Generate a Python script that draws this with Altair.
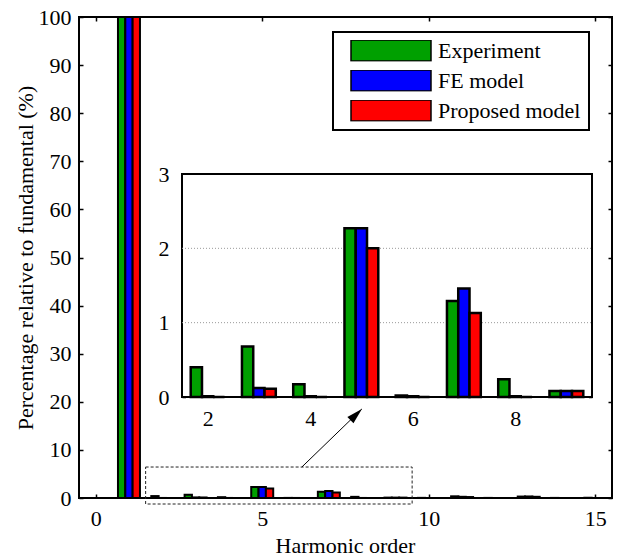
import altair as alt
import pandas as pd

# ---------------- data ----------------
harmonics = list(range(16))
experiment = [0.0, 100.0, 0.40, 0.68, 0.17, 2.27, 0.02, 1.29, 0.24, 0.08, 0.03, 0.35, 0.02, 0.30, 0.02, 0.03]
fe_model = [0.0, 100.0, 0.01, 0.12, 0.01, 2.27, 0.01, 1.46, 0.01, 0.08, 0.0, 0.25, 0.0, 0.32, 0.0, 0.0]
proposed = [0.0, 100.0, 0.0, 0.11, 0.0, 2.00, 0.0, 1.13, 0.0, 0.08, 0.0, 0.20, 0.0, 0.25, 0.0, 0.0]
series_names = ["Experiment", "FE model", "Proposed model"]
series_colors = ["#00a000", "#0000ff", "#ff0000"]

main_x_ticks = [0, 5, 10, 15]
main_y_ticks = list(range(0, 101, 10))
inset_x_ticks = [2, 4, 6, 8]
inset_y_ticks = [0, 1, 2, 3]
inset_first, inset_last = 2, 9
inset_grid = [1, 2]

# zoom-window and arrow annotation (main-axis data units)
zoom_box_x = [1.5, 9.5]
zoom_box_y = [-1.25, 6.44]
arrow_x = [6.19, 7.99]
arrow_y = [6.44, 18.5]
arrow_head = [7.82, 17.34]

rows = []
for k, (name, vals) in enumerate(zip(series_names, [experiment, fe_model, proposed])):
    for h, v in zip(harmonics, vals):
        rows.append({"harmonic": h, "series": name, "k": k, "value": v})
df = pd.DataFrame(rows)

# ---------------- layout ----------------
W, H = 533, 481
FONT = "Liberation Serif, Times New Roman, Times, serif"
FS = 22
MAIN_XD = [-0.5, 15.5]
MAIN_YD = [0, 100]
INS_XD = [1.5, 9.5]
INS_YD = [0, 3]
INS_XR = [103, 513]
INS_YR = [380, 157]


def mx():
    return alt.Scale(domain=MAIN_XD, nice=False, zero=False)


def my():
    return alt.Scale(domain=MAIN_YD, nice=False, zero=False)


def ix():
    return alt.Scale(domain=INS_XD, range=INS_XR, nice=False, zero=False)


def iy():
    return alt.Scale(domain=INS_YD, range=INS_YR, nice=False, zero=False)


def ax(orient, values, offset=0, labels=True, ticks=False, tick_size=4, pad=10, **kw):
    return alt.Axis(orient=orient, values=values, offset=offset, labels=labels,
                    ticks=ticks, tickSize=tick_size, tickColor="black", tickWidth=1.5,
                    domain=False, grid=False, labelFont=FONT, labelFontSize=FS,
                    labelColor="black", labelFlush=False, labelPadding=pad,
                    labelOverlap=False, **kw)


legend = alt.Legend(orient="none", legendX=254, legendY=15, title=None,
                    symbolType="M-1,-0.2625H1V0.2625H-1Z", symbolSize=6400,
                    symbolStrokeColor="black", symbolStrokeWidth=1.5, symbolOpacity=1,
                    symbolOffset=9, clipHeight=21, rowPadding=7,
                    labelFont=FONT, labelFontSize=FS, labelColor="black", labelOffset=6,
                    padding=8, strokeColor="black", fillColor="white")

color = alt.Color("series:N", scale=alt.Scale(domain=series_names, range=series_colors),
                  legend=legend)

calc = dict(x1="datum.harmonic + (datum.k - 1) * 0.22 - 0.11",
            x2="datum.harmonic + (datum.k - 1) * 0.22 + 0.11",
            base="0")

base = alt.Chart(df)

# main bars with labelled axes
main_bars = base.transform_calculate(**calc).mark_bar(stroke="black", strokeWidth=2).encode(
    x=alt.X("x1:Q", scale=mx(),
            axis=ax("bottom", main_x_ticks, pad=10, title="Harmonic order",
                    titleFont=FONT, titleFontSize=FS, titleFontWeight="normal",
                    titleColor="black", titleX=266, titleY=47, titleBaseline="middle")),
    x2="x2:Q",
    y=alt.Y("value:Q", scale=my(),
            axis=ax("left", main_y_ticks, pad=8,
                    title="Percentage relative to fundamental (%)",
                    titleFont=FONT, titleFontSize=FS, titleFontWeight="normal",
                    titleColor="black", titleX=-54, titleY=240.5, titleAngle=270,
                    titleBaseline="middle")),
    y2="base:Q",
    color=color,
)

# inward ticks of main plot (bottom & left edges)
main_ticks_a = base.mark_point(opacity=0).encode(
    x=alt.X("harmonic:Q", scale=mx(), title=None,
            axis=ax("top", main_x_ticks, offset=-H, labels=False, ticks=True)),
    y=alt.Y("value:Q", scale=my(), title=None,
            axis=ax("right", main_y_ticks, offset=-W, labels=False, ticks=True)),
)
# inward ticks of main plot (top & right edges)
main_ticks_b = base.mark_point(opacity=0).encode(
    x=alt.X("harmonic:Q", scale=mx(), title=None,
            axis=ax("bottom", main_x_ticks, offset=-H, labels=False, ticks=True)),
    y=alt.Y("value:Q", scale=my(), title=None,
            axis=ax("left", main_y_ticks, offset=-W, labels=False, ticks=True)),
)

# dashed zoom window
zoom_df = pd.DataFrame({"x": [zoom_box_x[0]], "x2": [zoom_box_x[1]],
                        "y": [zoom_box_y[0]], "y2": [zoom_box_y[1]]})
zoom_rect = alt.Chart(zoom_df).mark_rect(fillOpacity=0, stroke="#222", strokeWidth=1,
                                         strokeDash=[3, 2]).encode(
    x=alt.X("x:Q", scale=mx(), axis=None), x2="x2:Q",
    y=alt.Y("y:Q", scale=my(), axis=None), y2="y2:Q",
)

arrow_df = pd.DataFrame({"x": [arrow_x[0]], "x2": [arrow_x[1]],
                         "y": [arrow_y[0]], "y2": [arrow_y[1]]})
arrow_line = alt.Chart(arrow_df).mark_rule(color="black", strokeWidth=1).encode(
    x=alt.X("x:Q", scale=mx(), axis=None), x2="x2:Q",
    y=alt.Y("y:Q", scale=my(), axis=None), y2="y2:Q",
)
head_df = pd.DataFrame({"x": [arrow_head[0]], "y": [arrow_head[1]]})
arrow_tip = alt.Chart(head_df).mark_point(
    shape="M0,-1L0.55,1L-0.55,1Z", size=256, angle=46, filled=True,
    color="black", opacity=1, strokeWidth=0).encode(
    x=alt.X("x:Q", scale=mx(), axis=None),
    y=alt.Y("y:Q", scale=my(), axis=None),
)

# ---------------- inset ----------------
inset_bg_df = pd.DataFrame({"x": [INS_XD[0]], "x2": [INS_XD[1]],
                            "y": [INS_YD[0]], "y2": [INS_YD[1]]})
inset_bg = alt.Chart(inset_bg_df).mark_rect(fill="white", stroke="black", strokeWidth=2).encode(
    x=alt.X("x:Q", scale=ix(), axis=None), x2="x2:Q",
    y=alt.Y("y:Q", scale=iy(), axis=None), y2="y2:Q",
)

grid_df = pd.DataFrame({"y": inset_grid, "x": INS_XD[0], "x2": INS_XD[1]})
inset_grid_rules = alt.Chart(grid_df).mark_rule(color="#9a9a9a", strokeWidth=1,
                                                strokeDash=[1, 2]).encode(
    x=alt.X("x:Q", scale=ix(), axis=None), x2="x2:Q",
    y=alt.Y("y:Q", scale=iy(), axis=None),
)

inset_base = base.transform_filter(
    (alt.datum.harmonic >= inset_first) & (alt.datum.harmonic <= inset_last))

inset_bars = inset_base.transform_calculate(**calc).mark_bar(
    stroke="black", strokeWidth=2.5).encode(
    x=alt.X("x1:Q", scale=ix(), title=None,
            axis=ax("bottom", inset_x_ticks, offset=-(H - INS_YR[0]), pad=11)),
    x2="x2:Q",
    y=alt.Y("value:Q", scale=iy(), title=None,
            axis=ax("left", inset_y_ticks, offset=-INS_XR[0], pad=13)),
    y2="base:Q",
    color=color,
)

inset_ticks_a = inset_base.mark_point(opacity=0).encode(
    x=alt.X("harmonic:Q", scale=ix(), title=None,
            axis=ax("top", inset_x_ticks, offset=-INS_YR[0], labels=False, ticks=True,
                    tick_size=3.5)),
    y=alt.Y("value:Q", scale=iy(), title=None,
            axis=ax("right", inset_y_ticks, offset=INS_XR[0] - W, labels=False, ticks=True,
                    tick_size=3.5)),
)
inset_ticks_b = inset_base.mark_point(opacity=0).encode(
    x=alt.X("harmonic:Q", scale=ix(), title=None,
            axis=ax("bottom", inset_x_ticks, offset=INS_YR[1] - H, labels=False, ticks=True,
                    tick_size=3.5)),
    y=alt.Y("value:Q", scale=iy(), title=None,
            axis=ax("left", inset_y_ticks, offset=-INS_XR[1], labels=False, ticks=True,
                    tick_size=3.5)),
)

chart = alt.layer(
    main_bars, main_ticks_a, main_ticks_b, zoom_rect, arrow_line, arrow_tip,
    inset_bg, inset_grid_rules, inset_bars, inset_ticks_a, inset_ticks_b,
).resolve_scale(
    x="independent", y="independent"
).properties(
    width=W, height=H,
    padding={"left": 79, "top": 17, "right": 7, "bottom": 59},
    autosize=alt.AutoSizeParams(type="none"),
    background="white",
).configure_view(
    stroke="black", strokeWidth=2
).configure_legend(
    strokeWidth=2
)

chart.save("out.html", embed_options={"renderer": "svg", "actions": False})
